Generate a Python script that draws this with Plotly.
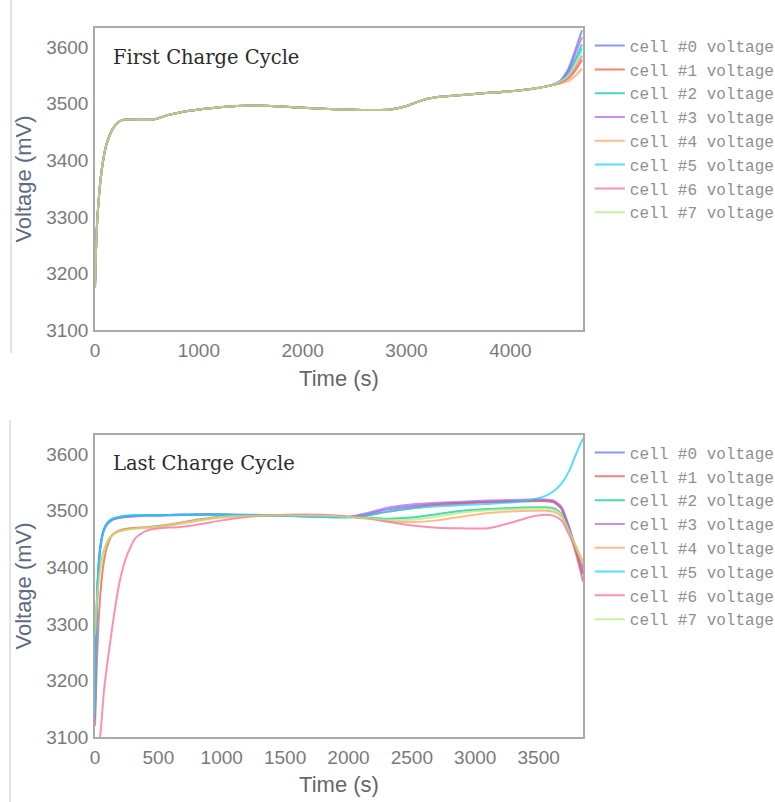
import plotly.graph_objects as go
from plotly.subplots import make_subplots

cells = ["cell #0 voltage", "cell #1 voltage", "cell #2 voltage", "cell #3 voltage",
         "cell #4 voltage", "cell #5 voltage", "cell #6 voltage", "cell #7 voltage"]
colors = ["#636efa", "#EF553B", "#00cc96", "#ab63fa", "#FFA15A", "#19d3f3", "#FF6692", "#B6E880"]

# ---------- First charge cycle ----------
first_t_common = [0, 15, 40, 70, 110, 160, 220, 280, 400, 560, 700, 850, 1000, 1200, 1500,
                  1800, 2100, 2400, 2700, 2850, 3000, 3100, 3200, 3350, 3500, 3700, 4000, 4200, 4400]
first_v_common = [3175, 3270, 3340, 3390, 3428, 3452, 3467, 3472, 3472, 3472, 3480, 3486, 3490, 3494, 3497,
                  3495, 3492, 3490, 3489, 3490, 3496, 3503, 3509, 3513, 3515, 3518, 3522, 3526, 3533]
first_t_tail = [4480, 4560, 4630, 4690]
first_tail_c0 = [3540, 3562, 3597, 3630]
first_tail_c1 = [3538, 3545, 3560, 3578]
first_tail_c2 = [3540, 3555, 3580, 3605]
first_tail_c3 = [3540, 3558, 3590, 3618]
first_tail_c4 = [3536, 3540, 3550, 3562]
first_tail_c5 = [3540, 3553, 3575, 3598]
first_tail_c6 = [3537, 3548, 3565, 3585]
first_tail_c7 = [3539, 3550, 3572, 3592]
first_tails = [first_tail_c0, first_tail_c1, first_tail_c2, first_tail_c3,
               first_tail_c4, first_tail_c5, first_tail_c6, first_tail_c7]

# ---------- Last charge cycle ----------
last_t = [0, 10, 25, 45, 70, 100, 140, 190, 250, 320, 400, 500, 650, 800, 1000, 1200, 1500, 1800,
          2000, 2150, 2300, 2500, 2700, 2900, 3100, 3300, 3450, 3550, 3620, 3680, 3740, 3800, 3850]
last_c0 = [3150, 3290, 3390, 3440, 3466, 3478, 3485, 3488, 3490, 3491, 3492, 3492, 3493, 3494, 3494, 3493, 3492, 3490,
           3489, 3494, 3502, 3508, 3512, 3514, 3516, 3517, 3518, 3518, 3516, 3505, 3470, 3425, 3388]
last_c1 = [3120, 3200, 3290, 3360, 3410, 3440, 3458, 3465, 3468, 3470, 3471, 3473, 3478, 3484, 3490, 3492, 3492, 3491,
           3489, 3492, 3498, 3505, 3510, 3513, 3515, 3516, 3517, 3517, 3515, 3503, 3465, 3420, 3375]
last_c2 = [3160, 3300, 3395, 3443, 3468, 3480, 3486, 3489, 3491, 3492, 3492, 3492, 3493, 3493, 3493, 3492, 3491, 3490,
           3489, 3488, 3486, 3488, 3494, 3500, 3503, 3505, 3506, 3506, 3504, 3495, 3465, 3430, 3400]
last_c3 = [3130, 3280, 3385, 3438, 3465, 3477, 3484, 3487, 3489, 3490, 3491, 3491, 3492, 3493, 3493, 3492, 3491, 3489,
           3489, 3496, 3505, 3511, 3514, 3516, 3518, 3519, 3520, 3520, 3518, 3507, 3472, 3428, 3390]
last_c4 = [3300, 3330, 3370, 3405, 3430, 3447, 3458, 3464, 3467, 3469, 3470, 3471, 3476, 3482, 3488, 3491, 3492, 3491,
           3489, 3486, 3482, 3480, 3483, 3490, 3496, 3499, 3500, 3500, 3498, 3490, 3462, 3435, 3410]
last_c5 = [3140, 3285, 3388, 3440, 3466, 3479, 3486, 3489, 3491, 3492, 3492, 3492, 3493, 3493, 3493, 3492, 3491, 3489,
           3488, 3492, 3498, 3504, 3508, 3510, 3512, 3515, 3520, 3526, 3535, 3548, 3570, 3603, 3628]
last_c6 = [3060, 3065, 3075, 3110, 3180, 3235, 3300, 3370, 3420, 3452, 3464, 3469, 3471, 3475, 3483, 3489, 3493, 3493,
           3490, 3487, 3481, 3474, 3470, 3469, 3469, 3480, 3490, 3493, 3491, 3483, 3458, 3428, 3395]
last_c7 = [3280, 3320, 3365, 3402, 3428, 3446, 3457, 3463, 3466, 3468, 3470, 3472, 3477, 3483, 3489, 3491, 3492, 3491,
           3489, 3487, 3484, 3484, 3490, 3497, 3501, 3503, 3504, 3504, 3502, 3493, 3464, 3432, 3405]
last_cells = [last_c0, last_c1, last_c2, last_c3, last_c4, last_c5, last_c6, last_c7]

x_ticks_first = [0, 1000, 2000, 3000, 4000]
x_ticks_last = [0, 500, 1000, 1500, 2000, 2500, 3000, 3500]
y_ticks = [3100, 3200, 3300, 3400, 3500, 3600]

fig = make_subplots(rows=2, cols=1, vertical_spacing=0.148)

for i, name in enumerate(cells):
    fig.add_trace(go.Scatter(
        x=first_t_common + first_t_tail, y=first_v_common + first_tails[i],
        mode="lines", name=name, line=dict(color=colors[i], width=2, shape="spline", smoothing=0.6),
        opacity=0.72, legend="legend"), row=1, col=1)

for i, name in enumerate(cells):
    fig.add_trace(go.Scatter(
        x=last_t, y=last_cells[i],
        mode="lines", name=name, line=dict(color=colors[i], width=2, shape="spline", smoothing=0.6),
        opacity=0.72, legend="legend2"), row=2, col=1)

axis_common = dict(showline=True, mirror=True, linecolor="#aaaaaa", linewidth=1.5,
                   showgrid=False, zeroline=False, ticks="",
                   tickfont=dict(family="Liberation Sans, Arial", size=19, color="#7a7a7a"))

fig.update_xaxes(**axis_common)
fig.update_yaxes(**axis_common)

xtitle_font = dict(family="Liberation Sans, Arial", size=22, color="#666666")
fig.update_xaxes(range=[0, 4700], tickvals=x_ticks_first, ticklabelstandoff=2,
                 title=dict(text="Time (s)", font=xtitle_font, standoff=11),
                 row=1, col=1)
fig.update_xaxes(range=[0, 3850], tickvals=x_ticks_last, ticklabelstandoff=2,
                 title=dict(text="Time (s)", font=xtitle_font, standoff=10),
                 row=2, col=1)
for r in (1, 2):
    fig.update_yaxes(range=[3100, 3634], tickvals=y_ticks, ticklabelstandoff=1,
                     title=dict(text="Voltage (mV)", font=dict(family="Liberation Sans, Arial", size=22, color="#5f6b80"), standoff=8),
                     row=r, col=1)

legend_style = dict(xanchor="left", yanchor="top", itemwidth=30, tracegroupgap=0,
                    bgcolor="rgba(0,0,0,0)", borderwidth=0,
                    font=dict(family="Liberation Mono, Courier New, monospace", size=16, color="#8f8f8f"))
title_font = dict(family="DejaVu Serif", size=19.5, color="#2b2b2b")
fig.update_layout(
    width=775, height=802,
    margin=dict(l=95, r=192, t=28, b=65, autoexpand=False),
    paper_bgcolor="white", plot_bgcolor="white",
    showlegend=True,
    legend=dict(x=1.014, y=0.999, **legend_style),
    legend2=dict(x=1.014, y=0.425, **legend_style),
    annotations=[
        dict(text="First Charge Cycle", xref="paper", yref="paper", x=0.033, y=0.958,
             xanchor="left", yanchor="middle", showarrow=False, font=title_font),
        dict(text="Last Charge Cycle", xref="paper", yref="paper", x=0.033, y=0.386,
             xanchor="left", yanchor="middle", showarrow=False, font=title_font),
    ],
    shapes=[
        dict(type="line", xref="paper", yref="paper", x0=-0.172, x1=-0.172, y0=0.5416, y1=1.04,
             line=dict(color="#c8c8c8", width=1)),
        dict(type="line", xref="paper", yref="paper", x0=-0.174, x1=-0.174, y0=-0.092, y1=0.447,
             line=dict(color="#c8c8c8", width=1)),
    ],
)

fig.write_html("out.html")
